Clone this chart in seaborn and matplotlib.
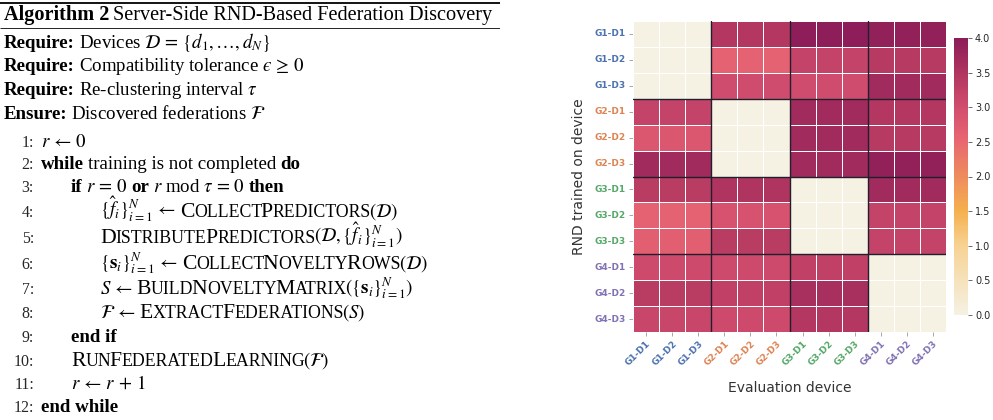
import matplotlib
matplotlib.use('Agg')
from matplotlib import pyplot as plt
from matplotlib.colors import LinearSegmentedColormap
import seaborn as sns
import pandas as pd

# ---- data ----
devices = ["G1-D1", "G1-D2", "G1-D3", "G2-D1", "G2-D2", "G2-D3",
           "G3-D1", "G3-D2", "G3-D3", "G4-D1", "G4-D2", "G4-D3"]
group_colors = {"G1": "#4c72b0", "G2": "#dd8452", "G3": "#55a868", "G4": "#8172b3"}

# rows: RND trained on device, cols: evaluation device
novelty = [
    [0.0, 0.0, 0.0, 3.45, 3.45, 3.45, 3.95, 3.95, 3.95, 3.90, 3.90, 3.90],
    [0.0, 0.0, 0.0, 2.60, 2.60, 2.60, 3.20, 3.20, 3.20, 3.40, 3.40, 3.40],
    [0.0, 0.0, 0.0, 3.00, 3.00, 3.00, 3.00, 3.00, 3.00, 3.70, 3.70, 3.70],
    [3.20, 3.20, 3.20, 0.0, 0.0, 0.0, 3.70, 3.70, 3.70, 3.45, 3.45, 3.45],
    [2.80, 2.80, 2.80, 0.0, 0.0, 0.0, 3.70, 3.70, 3.70, 3.40, 3.40, 3.40],
    [3.70, 3.70, 3.70, 0.0, 0.0, 0.0, 3.70, 3.70, 3.70, 3.90, 3.90, 3.90],
    [3.35, 3.35, 3.35, 3.50, 3.50, 3.50, 0.0, 0.0, 0.0, 3.70, 3.70, 3.70],
    [2.60, 2.60, 2.60, 2.90, 2.90, 2.90, 0.0, 0.0, 0.0, 3.20, 3.20, 3.20],
    [2.65, 2.65, 2.65, 3.35, 3.35, 3.35, 0.0, 0.0, 0.0, 3.20, 3.20, 3.20],
    [3.05, 3.05, 3.05, 3.05, 3.05, 3.05, 3.25, 3.25, 3.25, 0.0, 0.0, 0.0],
    [3.35, 3.35, 3.35, 3.25, 3.25, 3.25, 3.60, 3.60, 3.60, 0.0, 0.0, 0.0],
    [3.15, 3.15, 3.15, 3.05, 3.05, 3.05, 3.45, 3.45, 3.45, 0.0, 0.0, 0.0],
]
group_bounds = [3, 6, 9]
cbar_ticks = [0, 0.5, 1, 1.5, 2, 2.5, 3, 3.5, 4]

sns.set_style("white")
plt.rcParams['font.family'] = ['DejaVu Sans']
plt.rcParams['mathtext.fontset'] = 'stix'

fig = plt.figure(figsize=(9.93, 4.2), dpi=100)
renderer = fig.canvas.get_renderer()

# ---------------- left: algorithm box ----------------
axl = fig.add_axes([0, 0, 500 / 993, 1])
axl.set_xlim(0, 500)
axl.set_ylim(420, 0)
axl.axis('off')

FS = 13.6          # body text
FS_SC = 15.6       # small caps (capital height)
SC = 0.82          # small caps size ratio
SERIF = ['Liberation Serif', 'DejaVu Serif']
SP = 3.8
KERN = -1.6        # correction after a small-caps piece


def smallcaps(word):
    out = []
    for ch in word:
        size = FS_SC if ch.isupper() else FS_SC * SC
        if out and out[-1][1]['fontsize'] == size:
            out[-1] = (out[-1][0] + ch.upper(), out[-1][1])
        else:
            out.append((ch.upper(), {'fontsize': size, 'sc': True}))
    return out


def B(s):
    return [(s, {'fontweight': 'bold'})]


def R(s):
    return [(s, {})]


def run(x, y, parts, size=FS):
    for s, kw in parts:
        kw = dict(kw)
        is_sc = kw.pop('sc', False)
        lead = s.startswith(' ')
        trail = s.endswith(' ')
        s = s.strip()
        if lead:
            x += SP
        if s:
            opts = dict(fontsize=size, family=SERIF, color='black')
            opts.update(kw)
            t = axl.text(x, y, s, va='baseline', ha='left', **opts)
            bb = t.get_window_extent(renderer)
            x = axl.transData.inverted().transform((bb.x1, bb.y0))[0]
            if is_sc and opts['fontsize'] < FS_SC:
                x += KERN
        if trail:
            x += SP
    return x


# rules
axl.plot([0, 500], [3, 3], color='black', lw=1.3, solid_capstyle='butt')
axl.plot([0, 500], [28, 28], color='black', lw=0.6, solid_capstyle='butt')

run(4, 20, B("Algorithm 2 ") + R("Server-Side RND-Based Federation Discovery"), size=14.6)

EPS = "\u03f5"
req_y = [48, 71, 95, 119]
run(4, req_y[0], B("Require: ") + R(r"Devices $\mathcal{D}\,=\,\{d_1, \ldots, d_N\}$"))
run(4, req_y[1], B("Require: ") + R(r"Compatibility tolerance $" + EPS + r"\,\geq\,0$"))
run(4, req_y[2], B("Require: ") + R(r"Re-clustering interval $\tau$"))
run(4, req_y[3], B("Ensure: ") + R(r"Discovered federations $\mathcal{F}$"))

indent = [41, 71, 100]
ARROW = r"\,\leftarrow\,"
lines = [
    (0, R(r"$r" + ARROW + "0$")),
    (0, B("while ") + R("training is not completed ") + B("do")),
    (1, B("if ") + R(r"$r\,=\,0$ ") + B("or ") + R(r"$r$ mod $\tau\,=\,0$ ") + B("then")),
    (2, R(r"$\{\hat{f}_i\}_{i=1}^{N}" + ARROW + "$ ") + smallcaps("CollectPredictors") + R(r"$(\mathcal{D})$")),
    (2, smallcaps("DistributePredictors") + R(r"$(\mathcal{D}, \{\hat{f}_i\}_{i=1}^{N})$")),
    (2, R(r"$\{\mathbf{s}_i\}_{i=1}^{N}" + ARROW + "$ ") + smallcaps("CollectNoveltyRows") + R(r"$(\mathcal{D})$")),
    (2, R(r"$S" + ARROW + "$ ") + smallcaps("BuildNoveltyMatrix") + R(r"$(\{\mathbf{s}_i\}_{i=1}^{N})$")),
    (2, R(r"$\mathcal{F}" + ARROW + "$ ") + smallcaps("ExtractFederations") + R(r"$(S)$")),
    (1, B("end if")),
    (1, smallcaps("RunFederatedLearning") + R(r"$(\mathcal{F})$")),
    (1, R(r"$r" + ARROW + r"r\,+\,1$")),
    (0, B("end while")),
]
line_y = [147, 169, 192, 217, 243, 269, 294, 318, 342, 366, 389, 412]
for i, ((lvl, parts), y) in enumerate(zip(lines, line_y)):
    axl.text(34, y, f"{i + 1}:", ha='right', va='baseline', fontsize=FS * 0.84, family=SERIF)
    run(indent[lvl], y, parts)

# ---------------- right: heatmap ----------------
ax = fig.add_axes([633 / 993, 88 / 420, 313 / 993, 311 / 420])
cax = fig.add_axes([954 / 993, 105 / 420, 14 / 993, 277 / 420])

cmap = LinearSegmentedColormap.from_list(
    "novelty",
    [(0.0, "#f5f1e3"), (0.25, "#f7d293"), (0.375, "#f5b04e"), (0.5, "#ee8c5d"),
     (0.64, "#e76472"), (0.75, "#d14d6e"), (0.875, "#b0355f"), (1.0, "#8b1c59")])

df = pd.DataFrame(novelty, index=devices, columns=devices)
sns.heatmap(df, ax=ax, cmap=cmap, vmin=0, vmax=4, linewidths=0.7, linecolor='white',
            cbar_ax=cax, cbar_kws={'ticks': cbar_ticks})

for b in group_bounds:
    ax.axhline(b, color='#1f1f2e', lw=1.0)
    ax.axvline(b, color='#1f1f2e', lw=1.0)

ax.tick_params(left=True, bottom=True, length=3, width=0.6, color='#999999', pad=2)
ax.set_xticklabels(devices, rotation=45, ha='right', rotation_mode='anchor',
                   fontsize=6.5, fontweight='bold')
ax.set_yticklabels(devices, rotation=0, fontsize=6.5, fontweight='bold')
for lab in ax.get_xticklabels() + ax.get_yticklabels():
    lab.set_color(group_colors[lab.get_text()[:2]])

ax.set_xlabel("Evaluation device", fontsize=10, color='#333333', labelpad=10)
ax.set_ylabel("RND trained on device", fontsize=10, color='#333333', labelpad=6)

cb = ax.collections[0].colorbar
cb.outline.set_visible(False)
cax.tick_params(labelsize=7, length=3, width=0.6, color='#555555', pad=2)
cax.set_yticklabels([f"{v:.1f}" for v in cbar_ticks])

fig.savefig("out.png", dpi=100)
